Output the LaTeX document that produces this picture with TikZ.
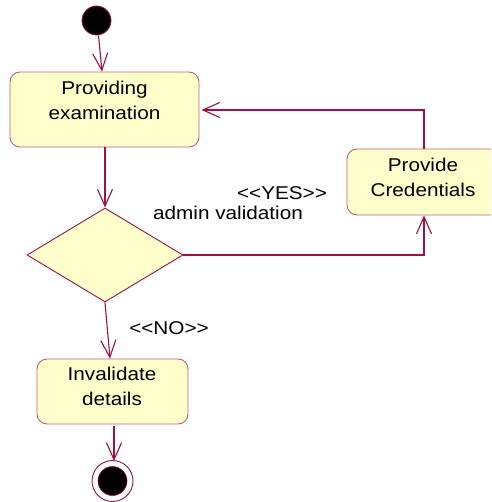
\documentclass[tikz,border=0pt]{standalone}
\usepackage{fontspec}
\setmainfont{Liberation Sans}[FakeStretch=1.12]
\usetikzlibrary{arrows.meta,shapes.geometric,calc}
\definecolor{flow}{RGB}{160,16,66}
\definecolor{edge}{RGB}{196,96,120}
\definecolor{actfill}{RGB}{255,255,204}
\begin{document}
\begin{tikzpicture}[x=1pt,y=-1pt,
  font=\fontsize{18.5}{25}\selectfont,
  activity/.style={draw=edge,fill=actfill,line width=0.9pt,rounded corners=10pt,
    inner sep=0pt,rectangle},
  choice/.style={draw=flow,fill=actfill,line width=0.9pt,diamond,inner sep=0pt,
    minimum width=156pt,minimum height=94pt},
  caption/.style={inner sep=0pt,align=center},
  flowline/.style={draw=flow,line width=1.1pt,
    -{Straight Barb[length=17pt,width=15pt,line width=1.1pt]}},
  initial/.style={circle,fill=black,draw=flow,line width=0.8pt,inner sep=0pt,minimum size=29pt},
]
\useasboundingbox (0,0) rectangle (491,502);
\clip (0,0) rectangle (491,502);

% states
\node[initial] (start) at (96.5,20.5) {};
\node[activity,minimum width=189pt,minimum height=75pt] (prov) at (104.5,109.5) {};
\node[caption] (provtxt) at (104.5,100.5) {Providing\\examination};

\node[choice] (valid) at (105,255) {};

\node[activity,minimum width=154pt,minimum height=66pt] (cred) at (424,182) {};
\node[caption] (credtxt) at (423,177) {Provide\\Credentials};

\node[activity,minimum width=151pt,minimum height=65pt] (inval) at (112.5,391.5) {};
\node[caption] (invaltxt) at (112,386.5) {Invalidate\\details};

\node[circle,draw=flow,fill=white,line width=0.9pt,inner sep=0pt,minimum size=41pt] (final) at (112.5,481) {};
\node[circle,fill=black,draw=flow,line width=0.6pt,inner sep=0pt,minimum size=29pt] (finaldot) at (112.5,481) {};

% guard labels
\node[caption] (yes) at (282,193) {<{}<YES>{}>};
\node[caption] (admin) at (228,213) {admin validation};
\node[caption] (no) at (169,328) {<{}<NO>{}>};

% transitions
\draw[flowline] ($(start.south)+(2,0)$) -- ($(prov.north)+(-2.5,0)$);
\draw[flowline] (prov.south -| valid.north) -- (valid.north);
\draw[flowline] (valid.east) -| (cred.south);
\draw[flowline] (cred.north) |- ($(prov.east)+(2,0.5)$);
\draw[flowline] (valid.south) -- ($(inval.north)+(-2.5,0)$);
\draw[flowline] ($(inval.south)+(1.5,2)$) -- ($(final.north)+(1.5,1)$);
\end{tikzpicture}
\end{document}
